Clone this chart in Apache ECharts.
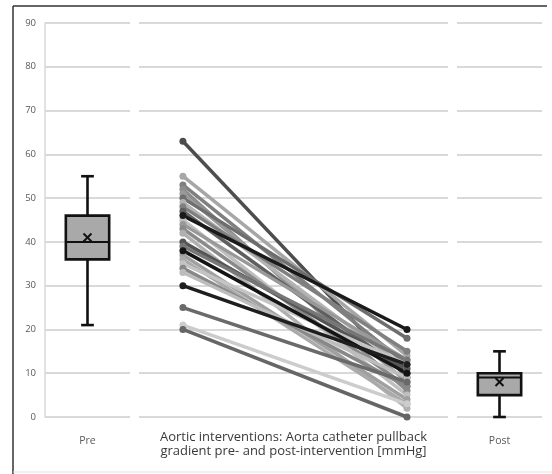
<!DOCTYPE html>
<html>
<head>
<meta charset="utf-8">
<script src="https://cdn.jsdelivr.net/npm/echarts@6/dist/echarts.min.js"></script>
<style>html,body{margin:0;padding:0;background:#fff}#c{width:552px;height:474px}</style>
</head>
<body>
<div id="c"></div>
<script>
// ---- data ----
var yTicks = [0, 10, 20, 30, 40, 50, 60, 70, 80, 90];
var preLabel = ['Pre'];
var postLabel = ['Post'];
var middleTitle = 'Aortic interventions: Aorta catheter pullback\ngradient pre- and post-intervention [mmHg]';
// box stats: [min, q1, median, q3, max, mean]
var preBox = [21, 36, 40, 46, 55, 41];
var postBox = [0, 5, 9, 10, 15, 8];
// paired patient gradients
var preValues  = [63, 55, 53, 52, 51, 50, 49, 48, 47, 45, 44, 43, 42, 40, 39, 37, 36, 35, 34, 33, 25, 21, 20, 46, 38, 30];
var postValues = [ 9, 14, 12,  6,  8, 18, 11, 15, 10,  5, 13,  7,  2, 11, 13,  4,  3, 12,  7,  9,  8,  3,  0, 20, 10, 12];

// ---- styles ----
var shades = ['#4d4d4d','#a6a6a6','#7f7f7f','#8c8c8c','#9a9a9a','#6e6e6e','#b3b3b3','#808080','#5f5f5f','#bfbfbf',
              '#999999','#8a8a8a','#b0b0b0','#555555','#777777','#a0a0a0','#aaaaaa','#c4c4c4','#888888','#bdbdbd',
              '#6a6a6a','#cccccc','#666666','#1a1a1a','#141414','#1e1e1e'];

var chart = echarts.init(document.getElementById('c'));

function boxRender(params, api) {
  var x = api.value(0);
  var vals = [api.value(1), api.value(2), api.value(3), api.value(4), api.value(5), api.value(6)];
  var band = api.size([1, 0])[0];
  var bw = band * 0.51, cw = band * 0.15;
  var p = vals.map(function (v) { return api.coord([x, v]); });
  var cx = p[0][0];
  var lw = 2.6, col = '#111';
  var m = p[5][1], s = 4;
  return {
    type: 'group',
    children: [
      { type: 'line', shape: { x1: cx, y1: p[0][1], x2: cx, y2: p[1][1] }, style: { stroke: col, lineWidth: lw } },
      { type: 'line', shape: { x1: cx, y1: p[3][1], x2: cx, y2: p[4][1] }, style: { stroke: col, lineWidth: lw } },
      { type: 'line', shape: { x1: cx - cw / 2, y1: p[0][1], x2: cx + cw / 2, y2: p[0][1] }, style: { stroke: col, lineWidth: lw } },
      { type: 'line', shape: { x1: cx - cw / 2, y1: p[4][1], x2: cx + cw / 2, y2: p[4][1] }, style: { stroke: col, lineWidth: lw } },
      { type: 'rect', shape: { x: cx - bw / 2, y: p[3][1], width: bw, height: p[1][1] - p[3][1] }, style: { fill: '#a9a9a9', stroke: col, lineWidth: lw } },
      { type: 'line', shape: { x1: cx - bw / 2, y1: p[2][1], x2: cx + bw / 2, y2: p[2][1] }, style: { stroke: col, lineWidth: 2 } },
      { type: 'line', shape: { x1: cx - s, y1: m - s, x2: cx + s, y2: m + s }, style: { stroke: col, lineWidth: 2 } },
      { type: 'line', shape: { x1: cx - s, y1: m + s, x2: cx + s, y2: m - s }, style: { stroke: col, lineWidth: 2 } }
    ]
  };
}

var yBase = {
  type: 'value', min: 0, max: 90, interval: 10,
  splitLine: { show: true, lineStyle: { color: '#d9d9d9', width: 1.8 } },
  axisTick: { show: false }
};
var labelFont = { fontFamily: 'Open Sans', fontSize: 10.5, color: '#595959' };

var series = [];
for (var i = 0; i < preValues.length; i++) {
  series.push({
    type: 'line', xAxisIndex: 1, yAxisIndex: 1,
    data: [[0, preValues[i]], [1, postValues[i]]],
    symbol: 'circle', symbolSize: 7, showSymbol: true,
    lineStyle: { width: 3.5, color: shades[i] },
    itemStyle: { color: shades[i] },
    silent: true, animation: false, z: 2
  });
}
series.push({
  type: 'custom', xAxisIndex: 0, yAxisIndex: 0, renderItem: boxRender,
  data: [[0].concat(preBox)], animation: false, z: 3
});
series.push({
  type: 'custom', xAxisIndex: 2, yAxisIndex: 2, renderItem: boxRender,
  data: [[0].concat(postBox)], animation: false, z: 3
});

chart.setOption({
  animation: false,
  grid: [
    { left: 45, top: 23, width: 85, height: 394 },
    { left: 139, top: 23, width: 309, height: 394 },
    { left: 457, top: 23, width: 85, height: 394 }
  ],
  xAxis: [
    { type: 'category', gridIndex: 0, data: preLabel, axisLine: { show: false }, axisTick: { show: false },
      axisLabel: Object.assign({ margin: 19 }, labelFont) },
    { type: 'value', gridIndex: 1, min: -0.196, max: 1.183, axisLine: { show: false }, axisTick: { show: false },
      axisLabel: { show: false }, splitLine: { show: false },
      name: middleTitle, nameLocation: 'middle', nameGap: 13,
      nameTextStyle: { fontFamily: 'Open Sans', fontSize: 13, color: '#3a3a3a', lineHeight: 14, align: 'center', verticalAlign: 'top' } },
    { type: 'category', gridIndex: 2, data: postLabel, axisLine: { show: false }, axisTick: { show: false },
      axisLabel: Object.assign({ margin: 19 }, labelFont) }
  ],
  yAxis: [
    Object.assign({}, yBase, { gridIndex: 0, axisLine: { show: true, lineStyle: { color: '#d9d9d9', width: 1.5 } },
      axisLabel: { show: true, margin: 9, fontFamily: 'Open Sans', fontSize: 9.5, color: '#595959',
        customValues: yTicks } }),
    Object.assign({}, yBase, { gridIndex: 1, axisLine: { show: false }, axisLabel: { show: false } }),
    Object.assign({}, yBase, { gridIndex: 2, axisLine: { show: false }, axisLabel: { show: false } })
  ],
  graphic: [
    { type: 'line', shape: { x1: 13, y1: 6, x2: 547, y2: 6 }, style: { stroke: '#333', lineWidth: 1.5 }, silent: true },
    { type: 'line', shape: { x1: 13, y1: 6, x2: 13, y2: 474 }, style: { stroke: '#333', lineWidth: 1.5 }, silent: true },
    { type: 'line', shape: { x1: 13, y1: 472, x2: 552, y2: 472 }, style: { stroke: '#e0e0e0', lineWidth: 1 }, silent: true }
  ],
  series: series
});
</script>
</body>
</html>
